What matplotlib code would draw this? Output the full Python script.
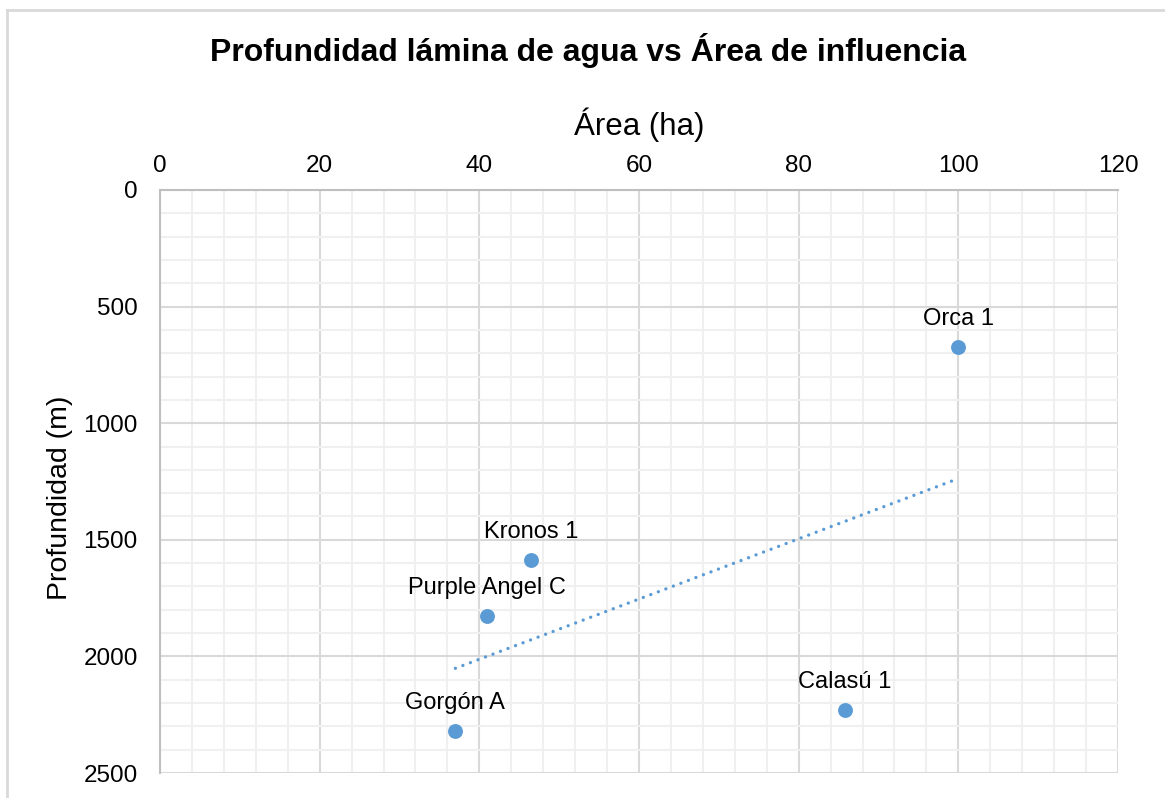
import numpy as np
import matplotlib
matplotlib.use("Agg")
import matplotlib.pyplot as plt
from matplotlib.lines import Line2D
from matplotlib.ticker import MultipleLocator

plt.rcParams['font.family'] = ['Liberation Sans', 'DejaVu Sans']

names = ["Orca 1", "Kronos 1", "Purple Angel C", "Gorgón A", "Calasú 1"]
area = [100, 46.5, 41, 37, 85.8]
depth = [673, 1587, 1827, 2320, 2230]

W, H = 1165, 798
fig = plt.figure(figsize=(W / 100, H / 100), dpi=100)
ax = fig.add_axes([160 / W, 1 - 773 / H, (1118 - 160) / W, (773 - 190) / H])

# light frame of the chart area (top and left edges visible)
fig.add_artist(Line2D([7 / W, 1], [1 - 9.5 / H] * 2, color="#D9D9D9", lw=2, transform=fig.transFigure))
fig.add_artist(Line2D([7 / W] * 2, [0, 1 - 9.5 / H], color="#D9D9D9", lw=2, transform=fig.transFigure))

blue = "#5B9BD5"

# linear trendline
slope, icpt = np.polyfit(area, depth, 1)
xt = np.array([min(area), max(area)])
ax.plot(xt, slope * xt + icpt, color=blue, lw=2.4, linestyle=(0, (0.01, 2.4)),
        dash_capstyle="round", zorder=3)

ax.scatter(area, depth, s=115, color=blue, zorder=4, linewidths=0)
for n, x, y in zip(names, area, depth):
    ax.annotate(n, (x, y), xytext=(0, 16), textcoords="offset points",
                ha="center", va="baseline", fontsize=17, color="#000000")

ax.set_xlim(0, 120)
ax.set_ylim(2500, 0)
ax.xaxis.set_major_locator(MultipleLocator(20))
ax.xaxis.set_minor_locator(MultipleLocator(4))
ax.yaxis.set_major_locator(MultipleLocator(500))
ax.yaxis.set_minor_locator(MultipleLocator(100))
ax.xaxis.tick_top()
ax.xaxis.set_label_position("top")
ax.tick_params(which="both", length=0, labelsize=17.5, colors="#000000")
ax.tick_params(axis="x", pad=9)
ax.tick_params(axis="y", pad=16)

ax.grid(which="major", color="#D9D9D9", lw=1.5)
ax.grid(which="minor", color="#F0F0F0", lw=1.5)
ax.set_axisbelow(True)

for s in ["right", "bottom"]:
    ax.spines[s].set_visible(False)
for s in ["left", "top"]:
    ax.spines[s].set_color("#BFBFBF")
    ax.spines[s].set_linewidth(1.5)

ax.set_xlabel("Área (ha)", fontsize=22.5, labelpad=15)
ax.set_ylabel("Profundidad (m)", fontsize=20.5)
ax.yaxis.set_label_coords(-0.091, 0.472)
fig.text(588 / W, 1 - 50 / H, "Profundidad lámina de agua vs Área de influencia",
         ha="center", va="center", fontsize=23, fontweight="bold")

fig.savefig("out.png", dpi=100)
